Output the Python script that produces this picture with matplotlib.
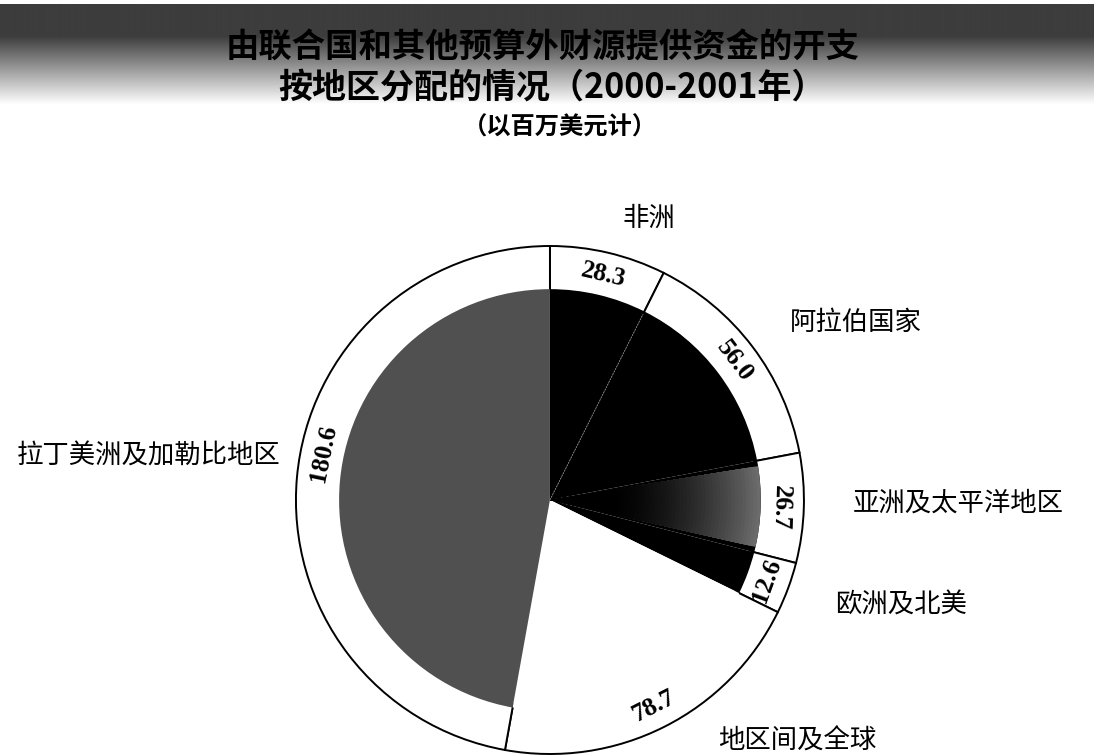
import matplotlib
matplotlib.use('Agg')
import matplotlib.pyplot as plt
from matplotlib.patches import Wedge
import numpy as np

# ---------------- data ----------------
regions = ['非洲', '阿拉伯国家', '亚洲及太平洋地区', '欧洲及北美', '地区间及全球', '拉丁美洲及加勒比地区']
values = [28.3, 56.0, 26.7, 12.6, 78.7, 180.6]
value_labels = ['28.3', '56.0', '26.7', '12.6', '78.7', '180.6']
title_lines = ['由联合国和其他预算外财源提供资金的开支', '按地区分配的情况（2000-2001年）']
subtitle = '（以百万美元计）'

# ---------------- style ----------------
W, H = 1094, 756
CJK = ['Noto Sans CJK SC', 'DejaVu Sans']
plt.rcParams['font.family'] = CJK

inner_colors = ['#000000', '#000000', '#000000', '#000000', '#ffffff', '#505050']
# label positions (image pixel centres, y measured downward)
region_pos = [(651, 218), (862, 322), (966, 503), (908, 605), (802, 741), (141, 456)]
label_angle_offset = [0, 0, 0, 0, 0, -6.5]

SY = 254 / 259      # the scanned circle is very slightly squashed
cx_px, cy_px = 550, 500
R = 259
r_in = 212

fig = plt.figure(figsize=(W / 100, H / 100), dpi=100)

# background band at top
bg = fig.add_axes([0, 0, 1, 1])
bg.set_axis_off()
yy = np.arange(H, dtype=float)
col = np.ones(H)
col[(yy >= 4) & (yy < 36)] = 0.24
m = (yy >= 36) & (yy < 104)
col[m] = 0.24 + (yy[m] - 36) / 68 * 0.76
img = np.tile(col[:, None], (1, 64))
bg.imshow(img, cmap='gray', vmin=0, vmax=1, extent=[0, W, H, 0], aspect='auto',
          interpolation='bilinear')
bg.set_xlim(0, W)
bg.set_ylim(H, 0)

# pie axes: x in pixels, y in pixels / SY (y up)
ax = fig.add_axes([0, 0, 1, 1])


def py2d(py):
    return (H - py) / SY


C = (cx_px, py2d(cy_px))

ring, _ = ax.pie(values, radius=R, center=C, startangle=90, counterclock=False,
                 colors=['white'] * len(values),
                 wedgeprops=dict(width=R - r_in, edgecolor='black', linewidth=1.4))
inner, _ = ax.pie(values, radius=r_in + 3, center=C, startangle=90, counterclock=False,
                  colors=inner_colors, wedgeprops=dict(linewidth=0))

# radial gradient in the Asia-Pacific slice
wp = inner[2]
N = 40
for k in range(N):
    f = 1 - k / N
    r = (r_in + 3) * (0.3 + 0.7 * f)
    g = 0.42 * f ** 1.6
    ax.add_patch(Wedge(C, r, wp.theta1 + 1.5, wp.theta2 - 1.5,
                       facecolor=(g, g, g), edgecolor='none'))

# faint boundary inside the black area
t = np.deg2rad(inner[0].theta1)
ax.plot([C[0], C[0] + r_in * np.cos(t)], [C[1], C[1] + r_in * np.sin(t)],
        color='#8a8a8a', lw=0.6, ls=(0, (2, 1.5)))

# values on the ring
for w, lab, off in zip(ring, value_labels, label_angle_offset):
    mid = (w.theta1 + w.theta2) / 2 + off
    rr = 0.91 * R
    x = C[0] + rr * np.cos(np.deg2rad(mid))
    y = C[1] + rr * np.sin(np.deg2rad(mid))
    rot = ((mid - 90 + 180) % 360) - 180
    if rot < -100:
        rot += 180
    ax.text(x, y, lab, ha='center', va='center', rotation=rot, rotation_mode='anchor',
            family='Liberation Serif', fontweight='bold', fontsize=18.5)

# region names
for name, (px, py) in zip(regions, region_pos):
    ax.text(px, py2d(py), name, ha='center', va='center', fontsize=19, family=CJK)

ax.set_xlim(0, W)
ax.set_ylim(0, H / SY)
ax.set_axis_off()

# titles
fig.text(543 / W, 1 - 48 / H, title_lines[0], ha='center', va='center',
         fontsize=24, fontweight='bold', color='#000000', family=CJK)
fig.text(552 / W, 1 - 87 / H, title_lines[1], ha='center', va='center',
         fontsize=24.5, fontweight='bold', color='#000000', family=CJK)
fig.text(560 / W, 1 - 128 / H, subtitle, ha='center', va='center',
         fontsize=17.5, fontweight='bold', color='#000000', family=CJK)

fig.savefig('out.png', dpi=100)
